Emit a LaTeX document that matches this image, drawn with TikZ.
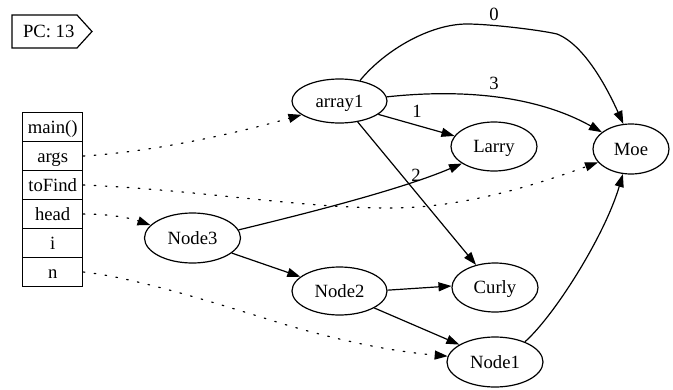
\documentclass[tikz,border=0pt]{standalone}
\usepackage{fontspec}
\setmainfont{Liberation Serif}
\usetikzlibrary{arrows.meta,shapes.geometric}

\begin{document}
\begin{tikzpicture}[x=1pt,y=-1pt, line width=1.2pt,
  every node/.style={font=\rmfamily\fontsize{18.67}{22}\selectfont},
  obj/.style={ellipse, draw, inner sep=0pt, minimum width=96pt, minimum height=49pt,
              text height=12.6pt, text depth=0pt},
  frame/.style={rectangle, draw, inner sep=0pt, minimum width=60pt, minimum height=29pt,
                text height=12.6pt, text depth=0pt},
  ref/.style={-{Triangle[length=13pt,width=9pt]}},
  ptr/.style={ref, line cap=round, dash pattern=on 1.6pt off 9.4pt},
  lbl/.style={inner sep=0pt, text height=12.6pt, text depth=0pt}
]
\useasboundingbox (0,0) rectangle (673,389);

% program counter tag
\draw (12,15) -- (77,15) -- (92,31.5) -- (77,48) -- (12,48) -- cycle;
\node[lbl] (pc) at (48.7,31.5) {PC: 13};

% stack frame of main()
\node[frame] (main)   at (52.7,127) {main()};
\node[frame] (args)   at (52.7,156) {args};
\node[frame] (toFind) at (52.7,185) {toFind};
\node[frame] (head)   at (52.7,214) {head};
\node[frame] (i)      at (52.7,243) {i};
\node[frame] (n)      at (52.7,272) {n};

% heap objects
\node[obj, minimum width=95pt, minimum height=44pt] (array1) at (339.5,101) {array1};
\node[obj, minimum width=86pt] (Larry) at (494,146.5) {Larry};
\node[obj, minimum width=76pt, minimum height=50pt] (Moe) at (631,149) {Moe};
\node[obj, minimum width=86pt] (Curly) at (495,287.5) {Curly};
\node[obj, minimum width=95pt, minimum height=48pt] (Node2) at (339.5,291) {Node2};
\node[obj, minimum height=50pt] (Node1) at (495,362) {Node1};
\node[obj, minimum height=50pt] (Node3) at (192.5,238) {Node3};

% array slots
\draw[ref] (array1.45) .. controls (385,50) and (430,24) .. (467,24)
  .. controls (490,24) and (540,30) .. (557,34)
  .. controls (585,45) and (608,90) .. (Moe.107);
\node[lbl] (l0) at (494,14) {0};
\draw[ref] (array1.5) .. controls (450,90) and (530,92) .. (Moe.150);
\node[lbl] (l3) at (494,83) {3};
\draw[ref] (array1.-19) -- (Larry.165);
\node[lbl] (l1) at (417,111) {1};
\draw[ref] (array1.-49) -- (Curly.130);
\node[lbl] (l2) at (416,175) {2};

% linked list
\draw[ref] (Node3.10) .. controls (300,215) and (400,190) .. (Larry.-152);
\draw[ref] (Node3.-21) -- (Node2.160);
\draw[ref] (Node2.1) -- (Curly.178);
\draw[ref] (Node2.-26) -- (Node1.154);
\draw[ref] (Node1.34) .. controls (555,315) and (605,235) .. (Moe.-108);

% local variable references
\draw[ptr] (args.east) .. controls (150,152) and (230,135) .. (array1.-160);
\draw[ptr] (toFind.east) .. controls (200,190) and (300,208) .. (390,208)
  .. controls (460,208) and (530,187) .. (Moe.-158);
\draw[ptr] (head.east) .. controls (110,214) and (130,218) .. (Node3.163);
\draw[ptr] (n.east) .. controls (130,277) and (200,298) .. (280,323)
  .. controls (350,344) and (400,352) .. (Node1.173);
\end{tikzpicture}
\end{document}
